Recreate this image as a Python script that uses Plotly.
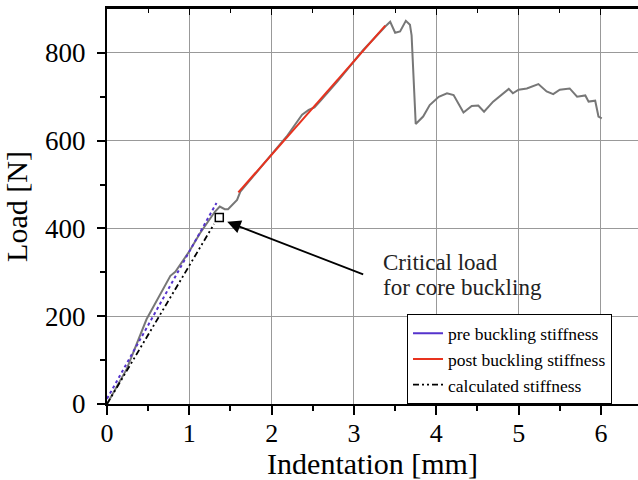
import plotly.graph_objects as go

# Measured load-indentation curve
meas_x = [0, 0.1, 0.24, 0.48, 0.77, 0.83, 1.0, 1.13, 1.31, 1.37, 1.43, 1.47, 1.58, 1.62, 1.8, 1.98,
          2.18, 2.37, 2.45, 2.52, 2.59, 2.8, 2.99, 3.11, 3.38, 3.44, 3.50, 3.56, 3.63, 3.68, 3.70,
          3.75, 3.84, 3.92, 4.03, 4.13, 4.21, 4.33, 4.43, 4.51, 4.58, 4.69, 4.88, 4.93, 5.00, 5.10,
          5.24, 5.34, 5.42, 5.50, 5.62, 5.71, 5.81, 5.85, 5.93, 5.97, 6.01]
meas_y = [0, 32, 80, 193, 292, 301, 348, 389, 438, 450, 444, 444, 465, 484, 525, 564,
          609, 659, 670, 676, 690, 735, 780, 806, 860, 871, 846, 849, 873, 864, 840,
          638, 655, 681, 700, 708, 704, 664, 679, 680, 666, 689, 718, 708, 716, 719,
          729, 712, 706, 716, 719, 700, 703, 689, 691, 655, 651]

pre_x = [0, 1.33]
pre_y = [12, 458]
post_x = [1.595, 3.38]
post_y = [482, 862]
calc_x = [0, 1.30]
calc_y = [0, 410]
crit_x = [1.364]
crit_y = [425]

FONT = "Liberation Serif"
BLUE = "#5533cc"
RED = "#e8321e"

fig = go.Figure()
fig.add_trace(go.Scatter(x=meas_x, y=meas_y, mode="lines", line=dict(color="#777777", width=2),
                         showlegend=False))
fig.add_trace(go.Scatter(x=pre_x, y=pre_y, mode="lines", line=dict(color=BLUE, width=2, dash="dot"),
                         showlegend=False))
fig.add_trace(go.Scatter(x=post_x, y=post_y, mode="lines", line=dict(color=RED, width=2),
                         showlegend=False))
fig.add_trace(go.Scatter(x=calc_x, y=calc_y, mode="lines",
                         line=dict(color="black", width=1.8, dash="6px,3px,2px,3px,2px,3px"),
                         showlegend=False))
fig.add_trace(go.Scatter(x=crit_x, y=crit_y, mode="markers",
                         marker=dict(symbol="square-open", size=8, color="black", line=dict(width=1.5)),
                         showlegend=False))
# legend entries
fig.add_trace(go.Scatter(x=[None], y=[None], mode="lines", line=dict(color=BLUE, width=2),
                         name="pre buckling stiffness"))
fig.add_trace(go.Scatter(x=[None], y=[None], mode="lines", line=dict(color=RED, width=2),
                         name="post buckling stiffness"))
fig.add_trace(go.Scatter(x=[None], y=[None], mode="lines",
                         line=dict(color="black", width=1.8, dash="6px,3px,2px,3px,2px,3px"),
                         name="calculated stiffness"))

fig.add_annotation(x=1.46, y=415, ax=3.13, ay=294, axref="x", ayref="y", xref="x", yref="y",
                   text="", showarrow=True, arrowhead=2, arrowsize=1.5, arrowwidth=1.8,
                   arrowcolor="black")
fig.add_annotation(x=3.33, y=323, xref="x", yref="y", text="Critical load", showarrow=False,
                   xanchor="left", yanchor="middle", font=dict(family=FONT, size=23, color="#222"))
fig.add_annotation(x=3.33, y=266, xref="x", yref="y", text="for core buckling", showarrow=False,
                   xanchor="left", yanchor="middle", font=dict(family=FONT, size=23, color="#222"))

fig.update_layout(
    width=638, height=480,
    margin=dict(l=107, r=0, t=9, b=76),
    paper_bgcolor="white", plot_bgcolor="white",
    font=dict(family=FONT, color="black"),
    showlegend=True,
    legend=dict(x=0.565, y=0.227, xanchor="left", yanchor="top", bgcolor="white",
                bordercolor="black", borderwidth=1, font=dict(family=FONT, size=17.5),
                tracegroupgap=0, itemwidth=30),
    xaxis=dict(range=[0, 6.45], tickvals=[0, 1, 2, 3, 4, 5, 6], showgrid=True, gridcolor="#999999",
               gridwidth=1, zeroline=False, showline=True, linecolor="black", linewidth=2,
               ticks="outside", ticklen=9, tickwidth=2, tickcolor="black", automargin=False,
               tickfont=dict(family=FONT, size=26), ticklabelstandoff=-4,
               minor=dict(tickvals=[0.5, 1.5, 2.5, 3.5, 4.5, 5.5], ticks="outside", ticklen=5,
                          tickwidth=1.5, tickcolor="black", showgrid=False),
               title=dict(text="Indentation [mm]", font=dict(family=FONT, size=30))),
    xaxis2=dict(range=[0, 6.45], overlaying="x", side="top", anchor="y", showgrid=False,
                zeroline=False, showline=True, linecolor="black", linewidth=3,
                tickvals=[0, 1, 2, 3, 4, 5, 6], ticks="inside", ticklen=6, tickwidth=1,
                tickcolor="black", showticklabels=False,
                minor=dict(tickvals=[0.5, 1.5, 2.5, 3.5, 4.5, 5.5], ticks="inside", ticklen=4,
                           tickwidth=1, tickcolor="black", showgrid=False)),
    yaxis=dict(range=[0, 900], tickvals=[0, 200, 400, 600, 800], showgrid=True, gridcolor="#999999",
               gridwidth=1, zeroline=False, showline=True, linecolor="black", linewidth=2,
               ticks="outside", ticklen=8, tickwidth=2, tickcolor="black", automargin=False,
               tickfont=dict(family=FONT, size=27), ticklabelstandoff=6,
               minor=dict(tickvals=[100, 300, 500, 700], ticks="outside", ticklen=5,
                          tickwidth=1.5, tickcolor="black", showgrid=False),
               title=dict(text="Load [N]", font=dict(family=FONT, size=30))),
)
fig.add_trace(go.Scatter(x=[None], y=[None], xaxis="x2", showlegend=False))

fig.write_html("out.html")
